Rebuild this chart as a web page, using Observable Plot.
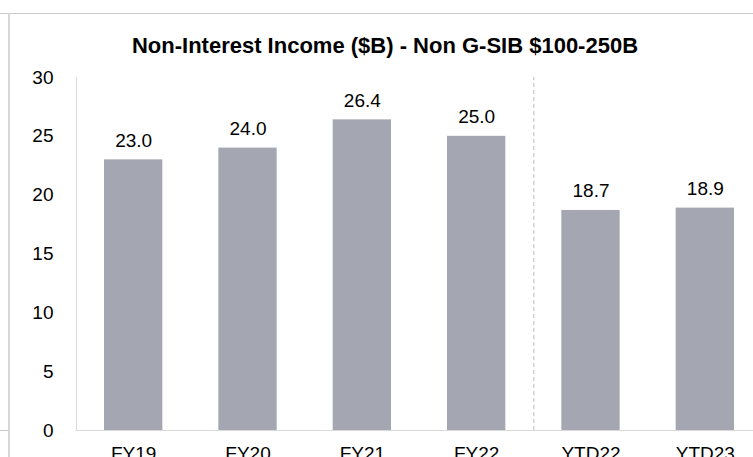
<!DOCTYPE html>
<html>
<head>
<meta charset="utf-8">
<script src="https://cdn.jsdelivr.net/npm/d3@7"></script>
<script src="https://cdn.jsdelivr.net/npm/@observablehq/plot@0.6"></script>
<style>
  html, body { margin: 0; padding: 0; background: #fff; }
  body { width: 753px; height: 457px; overflow: hidden; position: relative; font-family: "Liberation Sans", Arial, sans-serif; }
  #chart { position: absolute; left: 0; top: 0; }
  #title { position: absolute; left: 0; width: 770px; top: 33px; line-height: 25px; text-align: center; font-weight: bold; font-size: 22px; color: #000; }
  .line { position: absolute; background: #c9c9c9; }
</style>
</head>
<body>
<div class="line" style="left:0;top:13px;width:753px;height:1px;"></div>
<div class="line" style="left:8px;top:13px;width:2px;height:444px;background:#d6d6d6;"></div>
<div class="line" style="left:0;top:430px;width:8px;height:1px;"></div>
<div id="chart"></div>
<div id="title">Non-Interest Income ($B) - Non G-SIB $100-250B</div>
<script>
const categories = ["FY19", "FY20", "FY21", "FY22", "YTD22", "YTD23"];
const values = [23.0, 24.0, 26.4, 25.0, 18.7, 18.9];
const yTicks = [0, 5, 10, 15, 20, 25, 30];
const dividerBefore = "YTD22";

const data = categories.map((c, i) => ({ cat: c, value: values[i] }));

const W = 762, H = 457, ML = 76, MR = 0;
const step = (W - ML - MR) / categories.length;

const chart = Plot.plot({
  width: W,
  height: H,
  marginTop: 77,
  marginBottom: 27,
  marginLeft: ML,
  marginRight: MR,
  style: { fontFamily: "'Liberation Sans', Arial, sans-serif", fontSize: "19px", color: "#000", background: "transparent", overflow: "visible", maxWidth: "none" },
  x: { domain: categories, paddingInner: 0.49, paddingOuter: 0.245, round: false, label: null },
  y: { domain: [0, 30], label: null },
  marks: [
    Plot.frame({ anchor: "left", stroke: "#d9d9d9" }),
    Plot.ruleX([dividerBefore], { y1: 0, y2: 30, dx: -step / 2, stroke: "#bdbdbd", strokeDasharray: "4,3" }),
    Plot.barY(data, { x: "cat", y: "value", fill: "#a4a6b1" }),
    Plot.ruleY([0], { stroke: "#d9d9d9" }),
    Plot.text(data, { x: "cat", y: "value", text: d => d.value.toFixed(1), lineAnchor: "bottom", dy: -13, fill: "#000", fontSize: 19 }),
    Plot.axisY({ ticks: yTicks, tickSize: 0, tickPadding: 23, tickFormat: d => String(d), fontSize: 19, label: null }),
    Plot.axisX({ tickSize: 0, tickPadding: 16, fontSize: 19, label: null })
  ]
});
document.getElementById("chart").appendChild(chart);
</script>
</body>
</html>
